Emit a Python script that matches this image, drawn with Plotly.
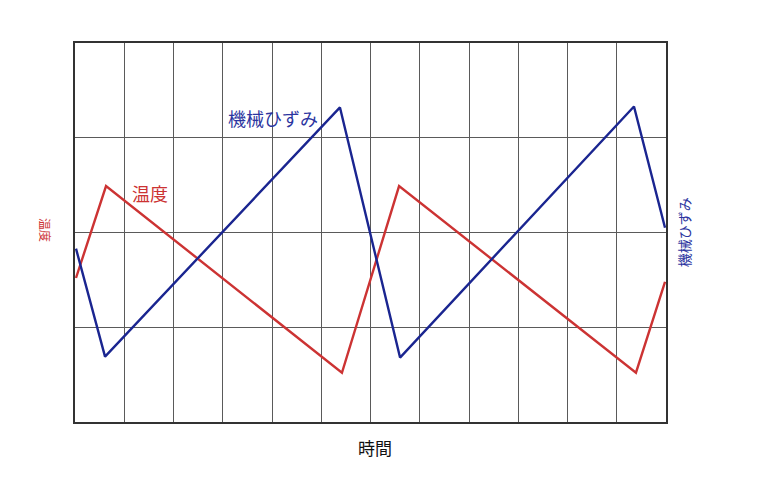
import plotly.graph_objects as go

# Time in grid columns (0..12), values in grid rows (0..4)
temp_time = [0.02, 0.63, 5.42, 6.58, 11.39, 11.98]
temp_vals = [1.52, 2.49, 0.52, 2.49, 0.52, 1.48]

strain_time = [0.02, 0.61, 5.38, 6.60, 11.35, 11.98]
strain_vals = [1.83, 0.69, 3.32, 0.68, 3.33, 2.05]

RED = "#cc3333"
BLUE = "#1a2590"
LBLUE = "#2b35a0"
FONT = "Noto Sans CJK JP"

fig = go.Figure()
fig.add_trace(go.Scatter(x=temp_time, y=temp_vals, mode="lines",
                         line=dict(color=RED, width=2.4), name="温度"))
fig.add_trace(go.Scatter(x=strain_time, y=strain_vals, mode="lines",
                         line=dict(color=BLUE, width=2.4), name="機械ひずみ"))

axis_common = dict(showgrid=True, gridcolor="#5a5a5a", gridwidth=1.2,
                   showticklabels=False, ticks="", zeroline=False,
                   showline=True, linecolor="#333333", linewidth=2, mirror=True,
                   fixedrange=True)

fig.update_layout(
    width=769, height=480,
    margin=dict(l=67, r=111, t=35, b=66),
    paper_bgcolor="white", plot_bgcolor="white",
    showlegend=False,
    font=dict(family=FONT),
    xaxis=dict(range=[0, 12], dtick=1, tick0=0, **axis_common),
    yaxis=dict(range=[0, 4], dtick=1, tick0=0, **axis_common),
    annotations=[
        dict(text="温度", x=0.093, y=0.604, xref="paper", yref="paper",
             xanchor="left", yanchor="middle", showarrow=False,
             font=dict(size=18, color=RED, family=FONT)),
        dict(text="機械ひずみ", x=0.2555, y=0.802, xref="paper", yref="paper",
             xanchor="left", yanchor="middle", showarrow=False,
             font=dict(size=18, color=LBLUE, family=FONT)),
        dict(text="時間", x=0.5076, y=-0.0686, xref="paper", yref="paper",
             xanchor="center", yanchor="middle", showarrow=False,
             font=dict(size=17, color="#111111", family=FONT)),
        dict(text="温度", x=-0.0508, y=0.5066, xref="paper", yref="paper",
             xanchor="center", yanchor="middle", showarrow=False, textangle=90,
             font=dict(size=12, color=RED, family=FONT)),
        dict(text="機械ひずみ", x=1.0305, y=0.501, xref="paper", yref="paper",
             xanchor="center", yanchor="middle", showarrow=False, textangle=-90,
             font=dict(size=14, color=LBLUE, family=FONT)),
    ],
)

fig.write_html("out.html")
